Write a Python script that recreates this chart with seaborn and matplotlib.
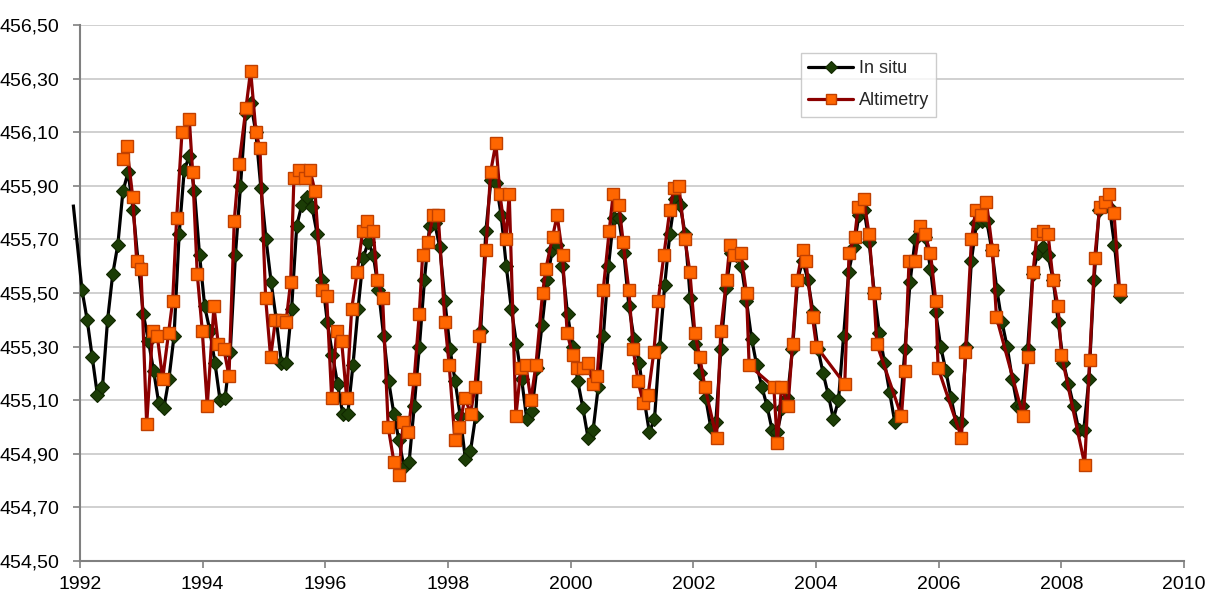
import numpy as np
import pandas as pd
import matplotlib
matplotlib.use("Agg")
import matplotlib.pyplot as plt
import seaborn as sns
from matplotlib.ticker import FuncFormatter

# ---------------- data ----------------
insitu_start_year = 1992
insitu_values = [
    455.51, 455.40, 455.26, 455.12, 455.15, 455.40, 455.57, 455.68, 455.88, 455.95, 455.81, 455.61,
    455.42, 455.32, 455.21, 455.09, 455.07, 455.18, 455.34, 455.72, 455.96, 456.01, 455.88, 455.64,
    455.45, 455.36, 455.24, 455.10, 455.11, 455.28, 455.64, 455.90, 456.17, 456.21, 456.10, 455.89,
    455.70, 455.54, 455.40, 455.24, 455.24, 455.44, 455.75, 455.83, 455.86, 455.82, 455.72, 455.55,
    455.39, 455.27, 455.16, 455.05, 455.05, 455.23, 455.44, 455.63, 455.69, 455.64, 455.51, 455.34,
    455.17, 455.05, 454.95, 454.85, 454.87, 455.08, 455.30, 455.55, 455.75, 455.76, 455.67, 455.47,
    455.29, 455.17, 455.04, 454.88, 454.91, 455.04, 455.36, 455.73, 455.92, 455.91, 455.79, 455.60,
    455.44, 455.31, 455.18, 455.03, 455.06, 455.22, 455.38, 455.55, 455.66, 455.68, 455.60, 455.42,
    455.30, 455.17, 455.07, 454.96, 454.99, 455.15, 455.34, 455.60, 455.78, 455.78, 455.65, 455.45,
    455.33, 455.24, 455.10, 454.98, 455.03, 455.30, 455.53, 455.72, 455.85, 455.83, 455.72, 455.48,
    455.31, 455.20, 455.11, 455.00, 455.02, 455.29, 455.52, 455.65, 455.64, 455.60, 455.47, 455.33,
    455.23, 455.15, 455.08, 454.99, 454.98, 455.07, 455.11, 455.29, 455.55, 455.62, 455.55, 455.43,
    455.29, 455.20, 455.12, 455.03, 455.10, 455.34, 455.58, 455.67, 455.79, 455.81, 455.69, 455.50,
    455.35, 455.24, 455.13, 455.02, 455.05, 455.29, 455.54, 455.70, 455.73, 455.71, 455.59, 455.43,
    455.30, 455.21, 455.11, 455.02, 455.02, 455.30, 455.62, 455.76, 455.77, 455.77, 455.66, 455.51,
    455.39, 455.30, 455.18, 455.08, 455.08, 455.29, 455.57, 455.65, 455.67, 455.64, 455.55, 455.39,
    455.24, 455.16, 455.08, 454.99, 454.99, 455.18, 455.55, 455.81, 455.83, 455.82, 455.68, 455.49,
]
insitu_lead_year = [1991.89]
insitu_lead_value = [455.83]

alt_years = [
    1992.696, 1992.761, 1992.859, 1992.924, 1992.994,
    1993.087, 1993.185, 1993.260, 1993.348, 1993.443, 1993.511, 1993.576, 1993.663, 1993.782, 1993.837, 1993.912, 1993.993,
    1994.075, 1994.184, 1994.254, 1994.347, 1994.429, 1994.515, 1994.592, 1994.706, 1994.782, 1994.869, 1994.934,
    1995.027, 1995.108, 1995.187, 1995.301, 1995.358, 1995.434, 1995.488, 1995.575, 1995.668, 1995.749, 1995.831, 1995.940,
    1996.021, 1996.103, 1996.184, 1996.266, 1996.347, 1996.429, 1996.520, 1996.608, 1996.673, 1996.781, 1996.846, 1996.934,
    1997.025, 1997.118, 1997.200, 1997.270, 1997.351, 1997.449, 1997.531, 1997.586, 1997.668, 1997.759, 1997.840, 1997.950,
    1998.020, 1998.113, 1998.183, 1998.276, 1998.368, 1998.439, 1998.509, 1998.618, 1998.694, 1998.781, 1998.846, 1998.944, 1998.998,
    1999.107, 1999.188, 1999.270, 1999.351, 1999.433, 1999.542, 1999.596, 1999.705, 1999.780, 1999.868, 1999.943,
    2000.031, 2000.096, 2000.194, 2000.285, 2000.357, 2000.432, 2000.530, 2000.628, 2000.693, 2000.786, 2000.856, 2000.949,
    2001.019, 2001.100, 2001.182, 2001.263, 2001.356, 2001.426, 2001.519, 2001.617, 2001.682, 2001.764, 2001.862, 2001.943,
    2002.025, 2002.106, 2002.188, 2002.378, 2002.448, 2002.541, 2002.595, 2002.665, 2002.774, 2002.867, 2002.910,
    2003.312, 2003.369, 2003.437, 2003.545, 2003.617, 2003.692, 2003.780, 2003.834, 2003.943,
    2004.008, 2004.469, 2004.539, 2004.632, 2004.686, 2004.779, 2004.865, 2004.942, 2004.991,
    2005.393, 2005.447, 2005.517, 2005.610, 2005.692, 2005.773, 2005.866, 2005.953, 2005.991,
    2006.372, 2006.437, 2006.535, 2006.604, 2006.697, 2006.779, 2006.877, 2006.942,
    2007.376, 2007.457, 2007.539, 2007.604, 2007.702, 2007.783, 2007.865, 2007.946,
    2008.001, 2008.381, 2008.462, 2008.544, 2008.625, 2008.707, 2008.776, 2008.858, 2008.950,
]
alt_values = [
    456.00, 456.05, 455.86, 455.62, 455.59,
    455.01, 455.36, 455.34, 455.18, 455.35, 455.47, 455.78, 456.10, 456.15, 455.95, 455.57, 455.36,
    455.08, 455.45, 455.31, 455.29, 455.19, 455.77, 455.98, 456.19, 456.33, 456.10, 456.04,
    455.48, 455.26, 455.40, 455.40, 455.39, 455.54, 455.93, 455.96, 455.93, 455.96, 455.88, 455.51,
    455.49, 455.11, 455.36, 455.32, 455.11, 455.44, 455.58, 455.73, 455.77, 455.73, 455.55, 455.48,
    455.00, 454.87, 454.82, 455.02, 454.98, 455.18, 455.42, 455.64, 455.69, 455.79, 455.79, 455.39,
    455.23, 454.95, 455.00, 455.11, 455.05, 455.15, 455.34, 455.66, 455.95, 456.06, 455.87, 455.70, 455.87,
    455.04, 455.22, 455.23, 455.10, 455.23, 455.50, 455.59, 455.71, 455.79, 455.64, 455.35,
    455.27, 455.22, 455.22, 455.24, 455.16, 455.19, 455.51, 455.73, 455.87, 455.83, 455.69, 455.51,
    455.29, 455.17, 455.09, 455.12, 455.28, 455.47, 455.64, 455.81, 455.89, 455.90, 455.70, 455.58,
    455.35, 455.26, 455.15, 454.96, 455.36, 455.55, 455.68, 455.64, 455.65, 455.50, 455.23,
    455.15, 454.94, 455.15, 455.08, 455.31, 455.55, 455.66, 455.62, 455.41,
    455.30, 455.16, 455.65, 455.71, 455.82, 455.85, 455.72, 455.50, 455.31,
    455.04, 455.21, 455.62, 455.62, 455.75, 455.72, 455.65, 455.47, 455.22,
    454.96, 455.28, 455.70, 455.81, 455.79, 455.84, 455.66, 455.41,
    455.04, 455.26, 455.58, 455.72, 455.73, 455.72, 455.55, 455.45,
    455.27, 454.86, 455.25, 455.63, 455.82, 455.84, 455.87, 455.80, 455.51,
]

x_ticks = list(range(1992, 2011, 2))
y_ticks = [454.5, 454.7, 454.9, 455.1, 455.3, 455.5, 455.7, 455.9, 456.1, 456.3, 456.5]
series_names = ["In situ", "Altimetry"]

# ---------------- frames ----------------
insitu_years = insitu_start_year + (np.arange(len(insitu_values)) + 0.4) / 12.0
df_insitu = pd.DataFrame({"year": insitu_years, "level": insitu_values})
df_alt = pd.DataFrame({"year": alt_years, "level": alt_values})

# ---------------- style ----------------
sns.set_theme(style="white")
plt.rcParams["font.family"] = ["Liberation Sans", "DejaVu Sans"]

fig = plt.figure(figsize=(12.05, 5.95), dpi=100)
ax = fig.add_axes([80 / 1205, 1 - 561 / 595, 1104 / 1205, 536 / 595])

ax.plot(insitu_lead_year + [insitu_years[0]], insitu_lead_value + [insitu_values[0]],
        color="black", lw=2.3, clip_on=False, zorder=3, solid_capstyle="butt")

sns.lineplot(data=df_insitu, x="year", y="level", ax=ax, sort=False,
             color="black", lw=2.3, marker="D", markersize=7.2,
             markerfacecolor="#1c3d06", markeredgecolor="#112800", markeredgewidth=0.8,
             label=series_names[0], zorder=3)
sns.lineplot(data=df_alt, x="year", y="level", ax=ax, sort=False,
             color="#8b0000", lw=2.3, marker="s", markersize=8.0,
             markerfacecolor="#ff6600", markeredgecolor="#c04000", markeredgewidth=1.0,
             label=series_names[1], zorder=4)

ax.set_xlim(1992, 2010)
ax.set_ylim(454.5, 456.5)
ax.set_xticks(x_ticks)
ax.set_yticks(y_ticks)
ax.yaxis.set_major_formatter(FuncFormatter(lambda v, p: f"{v:.2f}".replace(".", ",")))
ax.xaxis.set_major_formatter(FuncFormatter(lambda v, p: f"{int(round(v))}"))
ax.set_xlabel("")
ax.set_ylabel("")

ax.yaxis.grid(True, color="#c8c8c8", lw=1.2)
ax.xaxis.grid(False)
for s in ["top", "right"]:
    ax.spines[s].set_visible(False)
for s in ["left", "bottom"]:
    ax.spines[s].set_color("#808080")
    ax.spines[s].set_linewidth(1.5)
ax.tick_params(axis="both", which="major", labelsize=14, length=5, width=1.2,
               color="#808080", direction="out", labelcolor="black",
               bottom=True, left=True)
ax.tick_params(axis="x", pad=6)
ax.tick_params(axis="y", pad=10)

leg = ax.legend(loc="upper left", bbox_to_anchor=(0.653, 0.948), borderaxespad=0.0,
                frameon=True, fancybox=False, edgecolor="#c0c0c0", fontsize=13,
                handlelength=2.5, handletextpad=0.3, labelspacing=0.85, borderpad=0.4)
leg.get_frame().set_linewidth(1.0)
for h in leg.legend_handles:
    h.set_markersize(6.5)

fig.savefig("out.png", dpi=100)
